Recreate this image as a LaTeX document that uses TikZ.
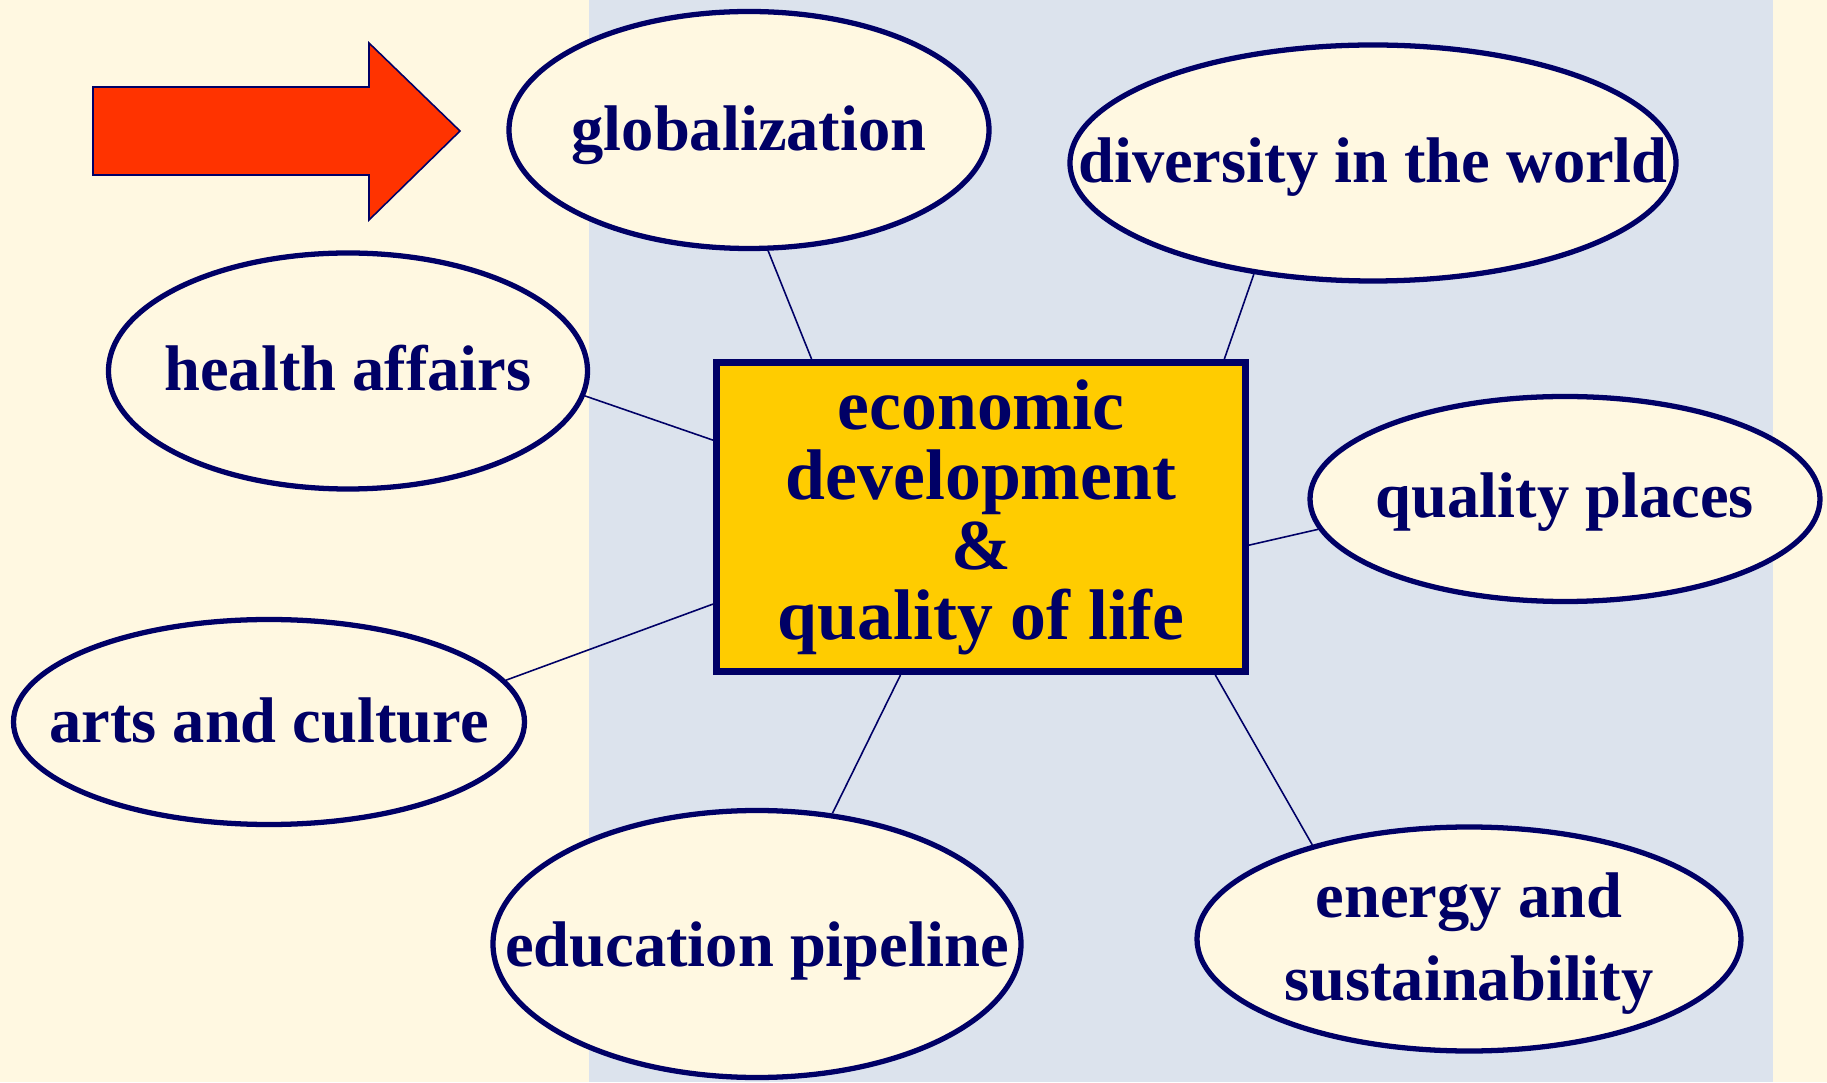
\documentclass[tikz,border=0pt]{standalone}
\usepackage{fontspec}
\setmainfont{Liberation Serif}
\usetikzlibrary{shapes.geometric}

\definecolor{navy}{HTML}{000066}
\definecolor{cream}{HTML}{FFF8E1}
\definecolor{slate}{HTML}{DCE3ED}
\definecolor{gold}{HTML}{FFCC00}
\definecolor{arrowred}{HTML}{FF3300}

\newcommand{\bubblefont}[0]{\fontsize{18.35pt}{23.6pt}\selectfont\bfseries}
\newcommand{\hubfont}[0]{\fontsize{20.4pt}{19.9pt}\selectfont\bfseries}

\begin{document}
\begin{tikzpicture}[
  bubble/.style 2 args={ellipse, draw=navy, line width=1.5pt, fill=cream,
    minimum width=#1cm, minimum height=#2cm, inner sep=0pt},
  btext/.style={text=navy, font=\bubblefont, align=center, inner sep=0pt},
  spoke/.style={draw=navy, line width=0.45pt}]

\useasboundingbox (0,0) rectangle (18.27,10.82);
\fill[cream](0,0) rectangle (18.27,10.82);
\fill[slate](5.89,0) rectangle (17.73,10.82);

% big arrow on the left
\draw[navy, line width=0.45pt, fill=arrowred](0.93,9.95) -- (3.69,9.95) -- (3.69,10.39)
  -- (4.60,9.51) -- (3.69,8.62) -- (3.69,9.07) -- (0.93,9.07) -- cycle;

% centre box
\node[draw=navy, line width=2pt, fill=gold, minimum width=5.29cm, minimum height=3.09cm,
  text=navy, font=\hubfont, align=center] (hub) at (9.81,5.65)
  {economic\\development\\\&\\quality of life};

% the ellipses
\node[bubble={4.80}{2.37}] (glob) at (7.49,9.52) {};
\node[bubble={6.06}{2.36}] (div) at (13.73,9.19) {};
\node[bubble={4.79}{2.36}] (health) at (3.48,7.11) {};
\node[bubble={5.10}{2.05}] (qplaces) at (15.65,5.83) {};
\node[bubble={5.11}{2.05}] (arts) at (2.69,3.60) {};
\node[bubble={5.28}{2.67}] (edu) at (7.57,1.38) {};
\node[bubble={5.44}{2.24}] (energy) at (14.69,1.43) {};

\node[btext, anchor=base, yshift=-0.21cm] (glob-t) at (glob) {globalization};
\node[btext, anchor=base, yshift=-0.20cm] (div-t) at (div) {diversity in the world};
\node[btext, anchor=base, yshift=-0.20cm] (health-t) at (health) {health affairs};
\node[btext, anchor=base, yshift=-0.19cm] (qplaces-t) at (qplaces) {quality places};
\node[btext, anchor=base, yshift=-0.20cm] (arts-t) at (arts) {arts and culture};
\node[btext, anchor=base, yshift=-0.22cm] (edu-t) at (edu) {education pipeline};
\node[btext, yshift=-0.05cm] (energy-t) at (energy) {energy and\\sustainability};

% spokes
\draw[spoke](hub.137) -- (glob.-81);
\draw[spoke](hub.33.5) -- (div.223);
\draw[spoke](hub.164.3) -- (health.-6.8);
\draw[spoke](hub.-6.3) -- (qplaces.187.4);
\draw[spoke](hub.198.2) -- (arts.10.9);
\draw[spoke](hub.243.8) -- (edu.60.5);
\draw[spoke](hub.-34.9) -- (energy.149);

\end{tikzpicture}
\end{document}
